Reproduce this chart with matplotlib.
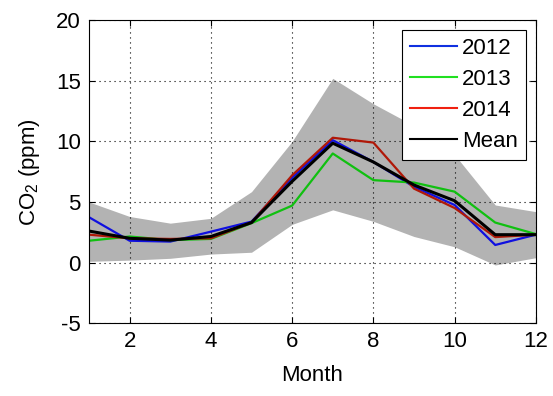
import numpy as np
import matplotlib
matplotlib.use("Agg")
import matplotlib.pyplot as plt

plt.rcParams['font.family'] = ['Liberation Sans', 'DejaVu Sans']
plt.rcParams['mathtext.fontset'] = 'custom'
plt.rcParams['mathtext.rm'] = 'Liberation Sans'
plt.rcParams['mathtext.it'] = 'Liberation Sans'
plt.rcParams['axes.unicode_minus'] = False

months = [1, 2, 3, 4, 5, 6, 7, 8, 9, 10, 11, 12]
co2_2012 = [3.74, 1.8, 1.73, 2.55, 3.38, 7.0, 10.1, 8.3, 6.25, 4.75, 1.45, 2.3]
co2_2013 = [1.8, 2.15, 1.85, 1.95, 3.25, 4.7, 9.0, 6.8, 6.6, 5.85, 3.3, 2.35]
co2_2014 = [2.3, 2.0, 1.95, 2.0, 3.3, 7.2, 10.3, 9.9, 6.1, 4.5, 2.1, 2.3]
co2_mean = [2.6, 2.0, 1.85, 2.15, 3.3, 6.7, 9.85, 8.3, 6.4, 5.1, 2.3, 2.3]
band_upper = [5.0, 3.8, 3.25, 3.65, 5.85, 10.0, 15.2, 13.1, 11.3, 8.9, 4.75, 4.2]
band_lower = [0.1, 0.2, 0.35, 0.7, 0.85, 3.15, 4.35, 3.4, 2.15, 1.3, -0.2, 0.4]

fig = plt.figure(figsize=(5.53, 3.96), dpi=100)
ax = fig.add_axes([0.161, 0.184, 0.808, 0.765])

ax.fill_between(months, band_lower, band_upper, color='#b3b3b3', lw=0)
l1, = ax.plot(months, co2_2012, color='#1010e0', lw=1.6)
l2, = ax.plot(months, co2_2013, color='#10c010', lw=1.6)
l3, = ax.plot(months, co2_2014, color='#b01808', lw=1.6)
l4, = ax.plot(months, co2_mean, color='black', lw=2.2)

ax.set_xlim(1, 12)
ax.set_ylim(-5, 20)
ax.set_xticks([2, 4, 6, 8, 10, 12])
ax.set_yticks([-5, 0, 5, 10, 15, 20])
ax.grid(True, color='black', linestyle=(0, (1, 3.5)), linewidth=0.8)
ax.tick_params(direction='in', top=True, right=True, labelsize=16, length=4, pad=6)
for s in ax.spines.values():
    s.set_linewidth(0.8)

ax.set_xlabel('Month', fontsize=16, labelpad=9)
ax.set_ylabel('CO$_2$ (ppm)', fontsize=16, labelpad=10)

# legend uses brighter swatches than the plotted lines
h = [plt.Line2D([], [], color='#1030e0', lw=1.5),
     plt.Line2D([], [], color='#20e020', lw=1.5),
     plt.Line2D([], [], color='#f02010', lw=1.5),
     plt.Line2D([], [], color='black', lw=1.5)]
leg = ax.legend(h, ['2012', '2013', '2014', 'Mean'], loc='upper right',
                fontsize=16, fancybox=False, framealpha=1, edgecolor='black',
                handlelength=2.1, handletextpad=0.25, labelspacing=0.45,
                borderpad=0.35, borderaxespad=0.45)
leg.get_frame().set_linewidth(0.8)

fig.savefig('out.png', dpi=100)
